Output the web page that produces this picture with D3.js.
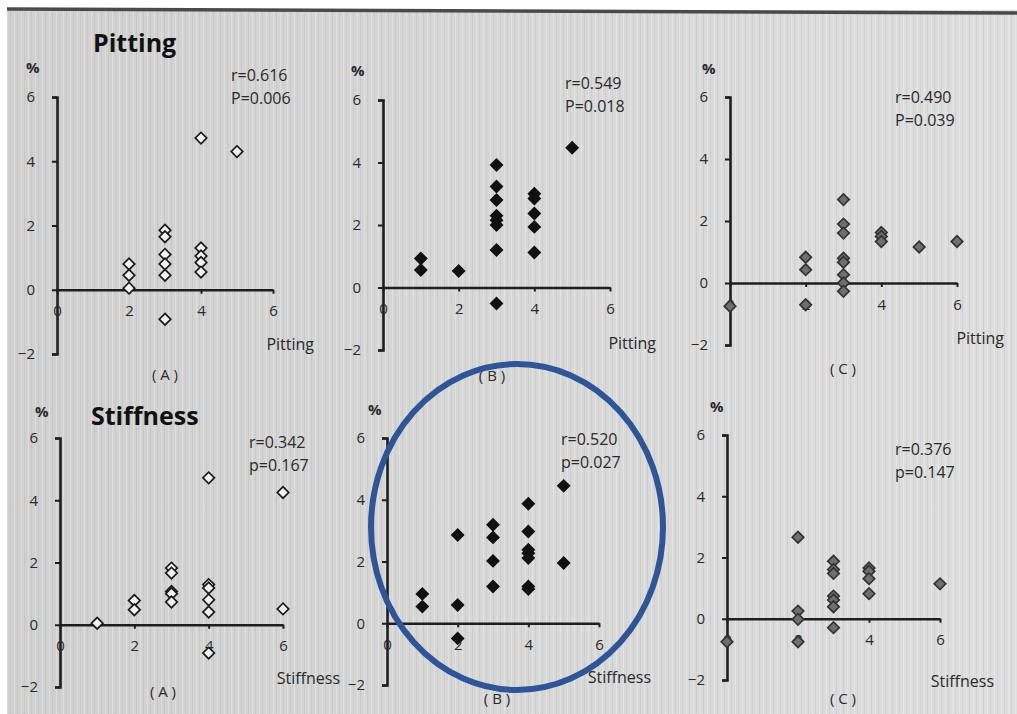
<!DOCTYPE html>
<html>
<head>
<meta charset="utf-8">
<script src="https://cdn.jsdelivr.net/npm/d3@7"></script>
<style>
  body { margin: 0; background: #fff; }
  svg text { font-family: "Open Sans", "Noto Sans", sans-serif; fill: #2a2a2a; }
</style>
</head>
<body>
<div id="chart"></div>
<script>
// values, one pair of arrays per panel
const pittingA_x = [2, 2, 2, 3, 3, 3, 3, 3, 3, 4, 4, 4, 4, 4, 5];
const pittingA_y = [0.8, 0.45, 0.05, 1.85, 1.65, 1.1, 0.8, 0.45, -0.92, 4.72, 1.3, 1.05, 0.85, 0.55, 4.3];

const pittingB_x = [1, 1, 2, 3, 3, 3, 3, 3, 3, 3, 3, 4, 4, 4, 4, 4, 5];
const pittingB_y = [0.93, 0.56, 0.53, 3.92, 3.23, 2.8, 2.3, 2.15, 2.0, 1.2, -0.51, 3.0, 2.85, 2.37, 1.94, 1.12, 4.47];

const pittingC_x = [0, 2, 2, 2, 3, 3, 3, 3, 3, 3, 3, 3, 4, 4, 4, 5, 6];
const pittingC_y = [-0.75, 0.83, 0.43, -0.7, 2.69, 1.9, 1.61, 0.8, 0.67, 0.27, 0.0, -0.27, 1.63, 1.5, 1.34, 1.16, 1.34];

const stiffA_x = [1, 2, 2, 3, 3, 3, 3, 3, 4, 4, 4, 4, 4, 4, 6, 6];
const stiffA_y = [0.05, 0.78, 0.48, 1.82, 1.66, 1.07, 1.0, 0.73, 4.72, 1.29, 1.18, 0.8, 0.41, -0.91, 4.25, 0.51];

const stiffB_x = [1, 1, 2, 2, 2, 3, 3, 3, 3, 4, 4, 4, 4, 4, 4, 4, 5, 5];
const stiffB_y = [0.95, 0.54, 2.86, 0.59, -0.49, 3.19, 2.78, 2.02, 1.19, 3.87, 2.97, 2.38, 2.27, 2.11, 1.19, 1.11, 4.45, 1.95];

const stiffC_x = [0, 2, 2, 2, 2, 3, 3, 3, 3, 3, 3, 3, 4, 4, 4, 4, 6];
const stiffC_y = [-0.75, 2.66, 0.25, -0.02, -0.75, 1.88, 1.61, 1.48, 0.74, 0.61, 0.39, -0.29, 1.66, 1.55, 1.31, 0.82, 1.14];

const yTicks = [-2, 0, 2, 4, 6];
const xTicks = [0, 2, 4, 6];
const stats = [['r=0.616', 'P=0.006'], ['r=0.549', 'P=0.018'], ['r=0.490', 'P=0.039'],
               ['r=0.342', 'p=0.167'], ['r=0.520', 'p=0.027'], ['r=0.376', 'p=0.147']];
const xTitles = ['Pitting', 'Pitting', 'Pitting', 'Stiffness', 'Stiffness', 'Stiffness'];
const panelTags = ['( A )', '( B )', '( C )', '( A )', '( B )', '( C )'];

const W = 1017, H = 714;

// layout of each panel: axis origin column, pixel rows of y=6 and y=-2, pixel column of x=6
const panels = [
  {xs: pittingA_x, ys: pittingA_y, x0: 57,  x6: 273, top: 97,  bot: 354, style: 'open'},
  {xs: pittingB_x, ys: pittingB_y, x0: 383, x6: 610, top: 100, bot: 350, style: 'black'},
  {xs: pittingC_x, ys: pittingC_y, x0: 730, x6: 957, top: 97,  bot: 345, style: 'grey'},
  {xs: stiffA_x,   ys: stiffA_y,   x0: 60,  x6: 283, top: 438, bot: 687, style: 'open'},
  {xs: stiffB_x,   ys: stiffB_y,   x0: 387, x6: 599, top: 438, bot: 685, style: 'black'},
  {xs: stiffC_x,   ys: stiffC_y,   x0: 727, x6: 940, top: 435, bot: 680, style: 'grey'}
];
// where the loose texts sit on the slide
const pctPos   = [[26, 73], [351, 76], [702, 74], [35, 417], [368, 415], [710, 412]];
const statPos  = [[231, 81], [565, 89], [895, 103], [249, 448], [561, 445], [895, 455]];
const xTitlePos = [[314, 350], [656, 349], [1004, 344], [340, 684], [651, 683], [994, 687]];
const tagPos   = [[165, 380], [492, 381], [843, 374], [163, 697], [497, 704], [843, 704]];

const markStyle = {
  open:  {fill: '#f2f2f2', stroke: '#1a1a1a'},
  black: {fill: '#111',    stroke: '#111'},
  grey:  {fill: '#6f6f6f', stroke: '#333'}
};

const svg = d3.select('#chart').append('svg')
    .attr('width', W)
    .attr('height', H);

// photographed slide background
const defs = svg.append('defs');
const grad = defs.append('linearGradient').attr('id', 'bg');
grad.append('stop').attr('offset', '0%').attr('stop-color', '#d0d0d0');
grad.append('stop').attr('offset', '55%').attr('stop-color', '#d8d8d8');
grad.append('stop').attr('offset', '100%').attr('stop-color', '#dedede');
const pat = defs.append('pattern').attr('id', 'stripes')
    .attr('width', 7).attr('height', 20).attr('patternUnits', 'userSpaceOnUse');
pat.append('rect').attr('x', 0).attr('width', 1).attr('height', 20).attr('fill', '#fff').attr('opacity', 0.25);
pat.append('rect').attr('x', 3).attr('width', 1).attr('height', 20).attr('fill', '#888').attr('opacity', 0.12);

svg.append('rect').attr('width', W).attr('height', H).attr('fill', '#fff');
svg.append('rect').attr('x', 7).attr('y', 10).attr('width', W - 7).attr('height', H - 10).attr('fill', 'url(#bg)');
svg.append('rect').attr('x', 7).attr('y', 10).attr('width', W - 7).attr('height', H - 10).attr('fill', 'url(#stripes)');
svg.append('line')
    .attr('x1', 7).attr('y1', 9).attr('x2', W).attr('y2', 13)
    .attr('stroke', '#4a4a4a').attr('stroke-width', 3.5);

// headings
svg.append('text').attr('x', 93).attr('y', 52).text('Pitting')
    .style('font-size', '25px').style('font-weight', 'bold').style('fill', '#111');
svg.append('text').attr('x', 91).attr('y', 425).text('Stiffness')
    .style('font-size', '25px').style('font-weight', 'bold').style('fill', '#111');

const diamond = d3.symbol().type(d3.symbolSquare).size(66);

panels.forEach(function(p, i) {
    const x = d3.scaleLinear().domain([0, 6]).range([p.x0, p.x6]);
    const y = d3.scaleLinear().domain([-2, 6]).range([p.bot, p.top]);
    const g = svg.append('g');

    // y axis: bracket style with ticks to the left
    const yAxis = g.append('g')
        .attr('transform', `translate(${p.x0}, 0)`)
        .call(d3.axisLeft(y).tickValues(yTicks).tickFormat(d3.format('d'))
            .tickSizeInner(5).tickSizeOuter(5).tickPadding(17));
    yAxis.select('.domain').attr('stroke', '#1e1e1e').attr('stroke-width', 2.6);
    yAxis.selectAll('.tick line').attr('stroke', '#1e1e1e').attr('stroke-width', 2);
    yAxis.selectAll('.tick text').style('font-size', '15px').attr('fill', '#2a2a2a');

    // x axis crosses at y=0, ticks hanging down
    const xAxis = g.append('g')
        .attr('transform', `translate(0, ${y(0)})`)
        .call(d3.axisBottom(x).tickValues(xTicks).tickFormat(d3.format('d'))
            .tickSizeInner(4).tickSizeOuter(0).tickPadding(12));
    xAxis.select('.domain').attr('stroke', '#1e1e1e').attr('stroke-width', 2.4);
    xAxis.selectAll('.tick line').attr('stroke', '#1e1e1e').attr('stroke-width', 2);
    xAxis.selectAll('.tick text').style('font-size', '15px').attr('fill', '#2a2a2a');

    const pts = p.xs.map(function(v, k) { return {x: v, y: p.ys[k]}; });
    const st = markStyle[p.style];
    g.append('g')
        .selectAll('path')
        .data(pts)
        .enter()
        .append('path')
        .attr('d', diamond)
        .attr('transform', function(d) { return `translate(${x(d.x)}, ${y(d.y)}) rotate(45)`; })
        .attr('fill', st.fill)
        .attr('stroke', st.stroke)
        .attr('stroke-width', 1.7);

    svg.append('text').attr('x', pctPos[i][0]).attr('y', pctPos[i][1]).text('%')
        .style('font-size', '15px').style('font-weight', 'bold');
    svg.append('text').attr('x', statPos[i][0]).attr('y', statPos[i][1]).text(stats[i][0])
        .style('font-size', '16px');
    svg.append('text').attr('x', statPos[i][0]).attr('y', statPos[i][1] + 23).text(stats[i][1])
        .style('font-size', '16px');
    svg.append('text').attr('x', xTitlePos[i][0]).attr('y', xTitlePos[i][1]).text(xTitles[i])
        .attr('text-anchor', 'end').style('font-size', '16px');
    svg.append('text').attr('x', tagPos[i][0]).attr('y', tagPos[i][1]).text(panelTags[i])
        .attr('text-anchor', 'middle').style('font-size', '15px');
});

// hand-drawn highlight ring round panel (B) of stiffness
svg.append('ellipse')
    .attr('cx', 517).attr('cy', 527).attr('rx', 146).attr('ry', 163)
    .attr('fill', 'none')
    .attr('stroke', '#2f5597')
    .attr('stroke-width', 6);
</script>
</body>
</html>
